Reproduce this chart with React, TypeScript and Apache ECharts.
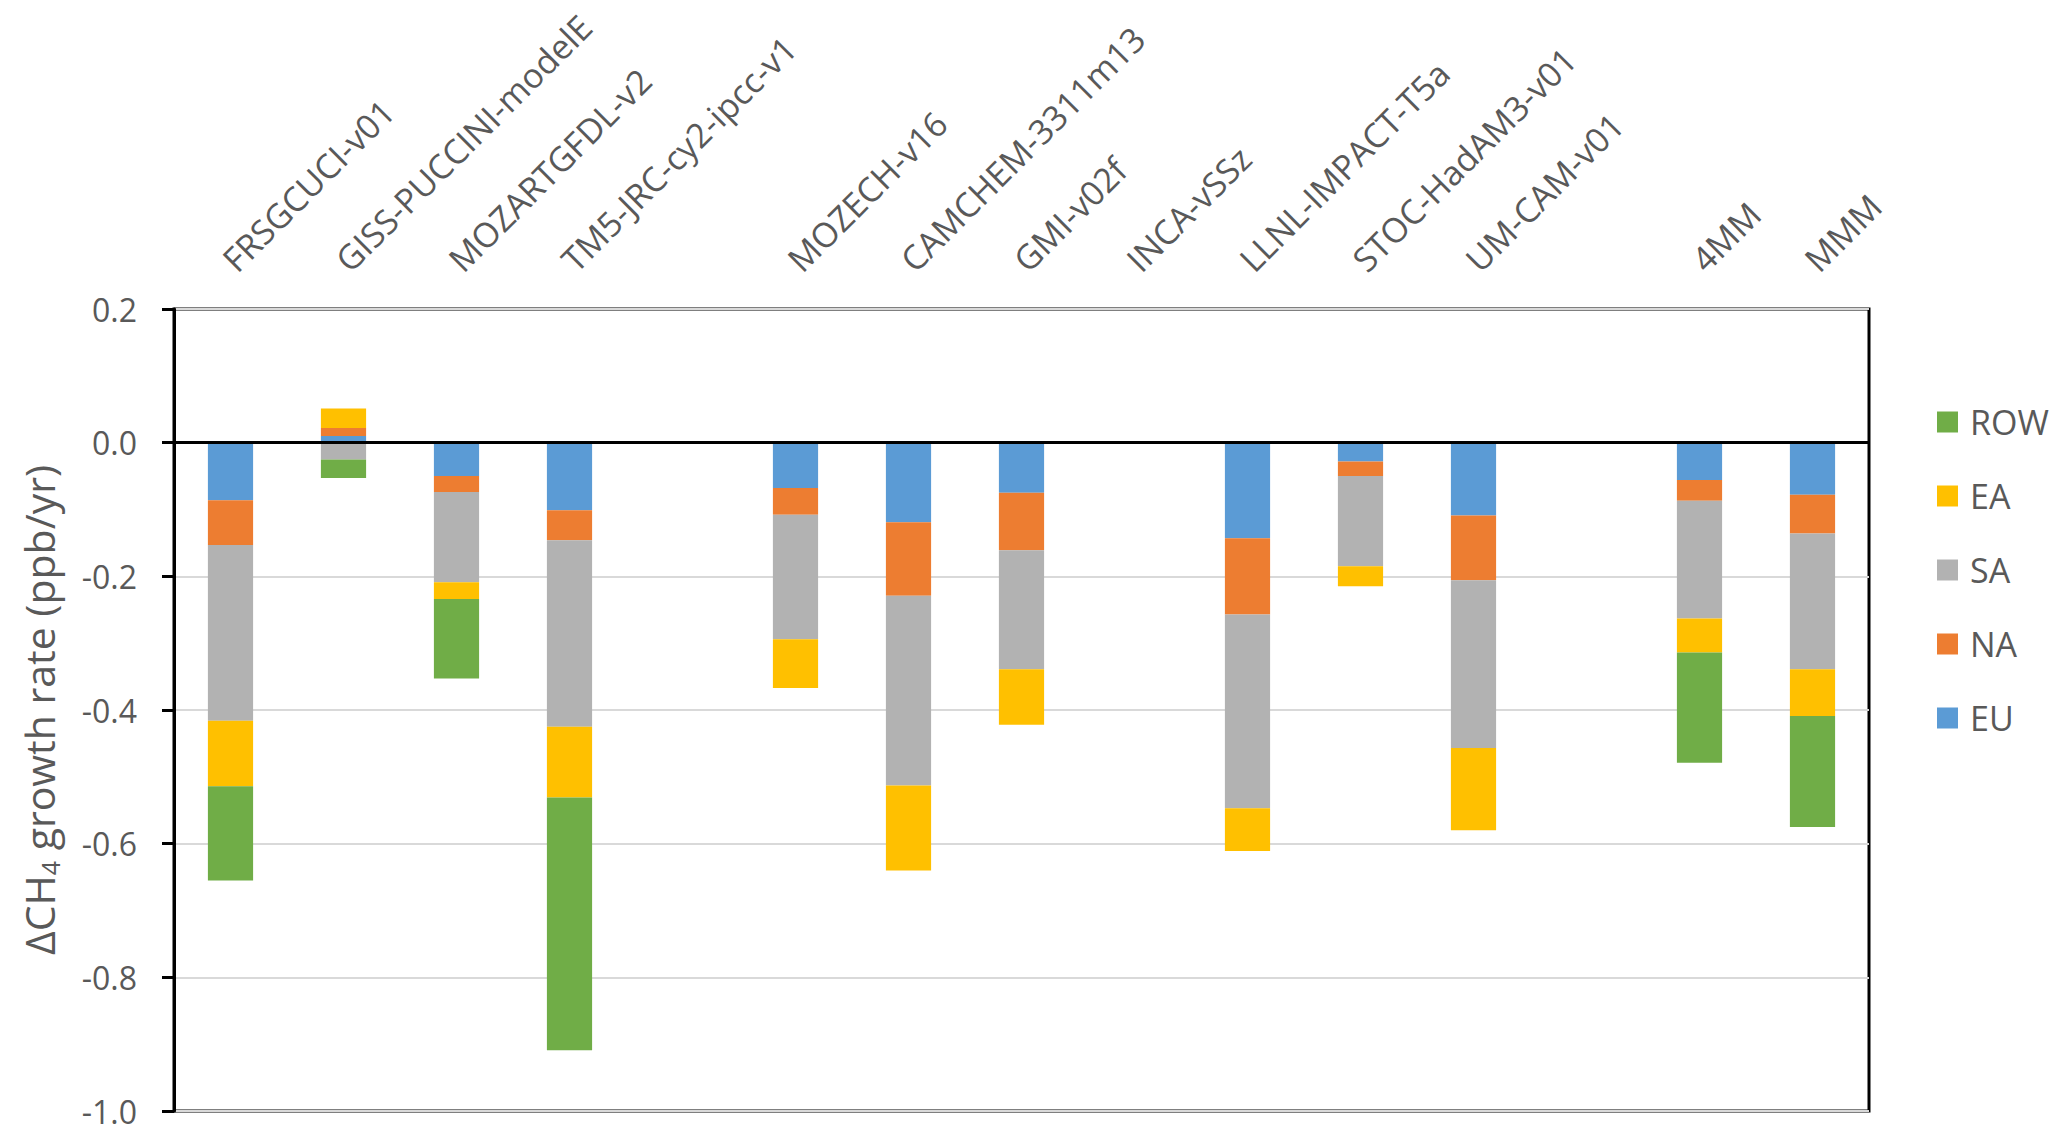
import React, { useEffect, useRef } from "react";
import * as echarts from "echarts";

const categories = [
  "FRSGCUCI-v01",
  "GISS-PUCCINI-modelE",
  "MOZARTGFDL-v2",
  "TM5-JRC-cy2-ipcc-v1",
  "",
  "MOZECH-v16",
  "CAMCHEM-3311m13",
  "GMI-v02f",
  "INCA-vSSz",
  "LLNL-IMPACT-T5a",
  "STOC-HadAM3-v01",
  "UM-CAM-v01",
  " ",
  "4MM",
  "MMM",
];

// stacked from zero outwards: EU, NA, SA, EA, ROW
const eu = [-0.086, 0.01, -0.05, -0.101, null, -0.068, -0.119, -0.075, null, -0.143, -0.028, -0.109, null, -0.056, -0.078];
const na = [-0.067, 0.012, -0.024, -0.045, null, -0.04, -0.11, -0.086, null, -0.114, -0.022, -0.097, null, -0.031, -0.058];
const sa = [-0.263, -0.025, -0.135, -0.279, null, -0.186, -0.284, -0.178, null, -0.29, -0.135, -0.251, null, -0.176, -0.203];
const ea = [-0.098, 0.029, -0.025, -0.106, null, -0.073, -0.127, -0.083, null, -0.064, -0.03, -0.123, null, -0.051, -0.07];
const row = [-0.141, -0.028, -0.119, -0.378, null, null, null, null, null, null, null, null, null, -0.165, -0.166];

const legendOrder = ["ROW", "EA", "SA", "NA", "EU"];

const TEXT = "#595959";
const FONT = "Open Sans";

const App = () => {
  const chartRef = useRef<HTMLDivElement>(null);

  useEffect(() => {
    if (!chartRef.current) return;
    const chart = echarts.init(chartRef.current, undefined, { renderer: "svg" });

    const bar = (name: string, data: (number | null)[], color: string) => ({
      name,
      type: "bar" as const,
      stack: "total",
      data,
      barWidth: "40%",
      itemStyle: { color },
    });

    const option: echarts.EChartsOption = {
      animation: false,
      backgroundColor: "#ffffff",
      textStyle: { fontFamily: FONT },
      grid: {
        left: 174,
        right: 198,
        top: 309,
        bottom: 31,
        show: true,
        borderColor: "#000",
        borderWidth: 3,
        backgroundColor: "transparent",
      },
      legend: {
        orient: "vertical",
        left: 1932,
        top: 400,
        itemWidth: 21,
        itemHeight: 21,
        itemGap: 40,
        icon: "rect",
        data: legendOrder,
        textStyle: { color: TEXT, fontSize: 34, fontFamily: FONT, padding: [0, 0, 0, 7] },
      },
      xAxis: {
        type: "category",
        position: "top",
        data: categories,
        axisLine: { show: false, onZero: false },
        axisTick: { show: false },
        axisLabel: {
          interval: 0,
          rotate: -45,
          margin: 22,
          align: "left",
          verticalAlign: "bottom",
          padding: [0, 0, 0, 14],
          color: TEXT,
          fontSize: 34,
          fontFamily: FONT,
        },
        splitLine: { show: false },
      },
      yAxis: {
        type: "value",
        min: -1,
        max: 0.2,
        interval: 0.2,
        axisLine: { show: true, lineStyle: { color: "#000", width: 3 } },
        axisTick: { show: true, length: 12, lineStyle: { color: "#000", width: 3 } },
        axisLabel: {
          margin: 37,
          color: TEXT,
          fontSize: 32,
          fontFamily: FONT,
          formatter: (v: number) => v.toFixed(1),
        },
        splitLine: { show: true, lineStyle: { color: "#D9D9D9", width: 2 } },
        name: "{a|ΔCH}{b|4}{a| growth rate (ppb/yr)}",
        nameLocation: "middle",
        nameGap: 112,
        nameTextStyle: {
          color: TEXT,
          fontFamily: FONT,
          rich: {
            a: { fontSize: 41, color: TEXT, fontFamily: FONT },
            b: { fontSize: 25, color: TEXT, fontFamily: FONT, verticalAlign: "top", padding: [21, 0, 0, 0] },
          },
        },
      },
      series: [
        {
          ...bar("EU", eu, "#5B9BD5"),
          markLine: {
            silent: true,
            symbol: ["none", "none"],
            label: { show: false },
            lineStyle: { color: "#000", width: 3, type: "solid" },
            data: [{ yAxis: 0 }],
          },
        },
        bar("NA", na, "#ED7D31"),
        bar("SA", sa, "#B2B2B2"),
        bar("EA", ea, "#FFC000"),
        bar("ROW", row, "#70AD47"),
      ],
    };

    chart.setOption(option);
    return () => chart.dispose();
  }, []);

  return (
    <div
      ref={chartRef}
      style={{ position: "fixed", left: 0, top: 0, width: 2067, height: 1142 }}
    />
  );
};

export default App;
